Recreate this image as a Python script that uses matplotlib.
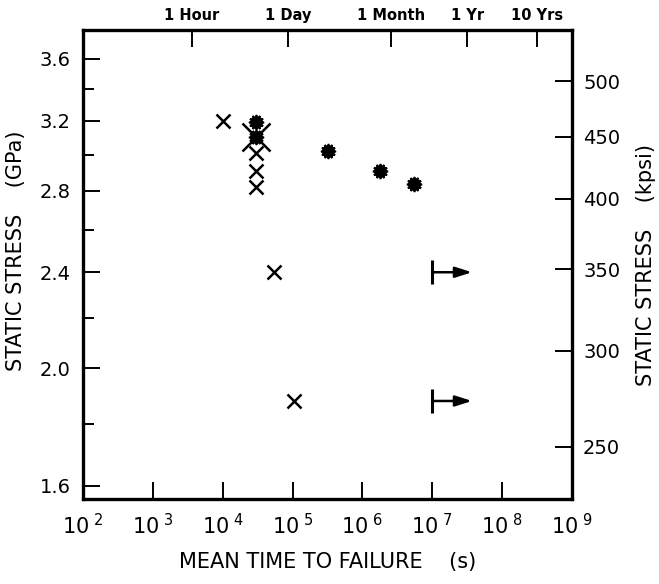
import numpy as np
import matplotlib
matplotlib.use("Agg")
import matplotlib.pyplot as plt
from matplotlib.ticker import NullLocator, FixedLocator, FixedFormatter

plt.rcParams['font.family'] = ['DejaVu Sans']
plt.rcParams['mathtext.fontset'] = 'dejavusans'
plt.rcParams['mathtext.default'] = 'regular'

# data
cross_t = [1.0e4, 3.0e4, 3.0e4, 3.0e4, 5.5e4, 1.05e5]
cross_s = [3.20, 3.01, 2.91, 2.82, 2.40, 1.88]
big_cross_t = [3.0e4]
big_cross_s = [3.10]
dot_t = [3.0e4, 3.0e4, 3.2e5, 1.8e6, 5.5e6]
dot_s = [3.19, 3.10, 3.02, 2.91, 2.835]
runout_t = [1.0e7, 1.0e7]
runout_s = [2.40, 1.88]

gpa_ticks = [1.6, 2.0, 2.4, 2.8, 3.2, 3.6]
gpa_minor = [1.8, 2.2, 2.6, 3.0, 3.4]
kpsi_ticks = [250, 300, 350, 400, 450, 500]
time_ticks = [3600, 86400, 2.592e6, 3.156e7, 3.156e8]
time_labels = ['1 Hour', '1 Day', '1 Month', '1 Yr', '10 Yrs']
decades = list(range(2, 10))
KPSI = 145.04

fig = plt.figure(figsize=(6.59, 5.84), dpi=100)
ax = fig.add_axes([83/659, 1-499/584, (572-83)/659, (499-30)/584])
ax.set_xscale('log')
ax.set_yscale('log')
ax.set_xlim(1e2, 1e9)
ylo, yhi = 1.561, 3.80
ax.set_ylim(ylo, yhi)

ax.plot(cross_t, cross_s, ls='none', marker='x', ms=10.5, mew=1.8, color='black')
ax.plot(big_cross_t, big_cross_s, ls='none', marker='x', ms=20, mew=1.8, color='black')
ax.plot(dot_t, dot_s, ls='none', marker='o', ms=8.5, color='black')
ax.plot(dot_t, dot_s, ls='none', marker=(12, 2, 0), ms=11, mew=1.2, color='black')
for t, s in zip(runout_t, runout_s):
    ax.plot([t], [s], marker='|', ms=17, mew=2.2, color='black')
    ax.annotate('', xy=(t * 3.7, s), xytext=(t, s),
                arrowprops=dict(arrowstyle='-|>,head_length=1.0,head_width=0.32',
                                lw=1.8, color='black', shrinkA=0, shrinkB=0))

for sp in ax.spines.values():
    sp.set_linewidth(2.4)

ax.xaxis.set_major_locator(FixedLocator([10.0**d for d in decades]))
ax.xaxis.set_major_formatter(FixedFormatter(['$10^{\\ %d}$' % d for d in decades]))
ax.xaxis.set_minor_locator(NullLocator())
ax.yaxis.set_major_locator(FixedLocator(gpa_ticks))
ax.yaxis.set_major_formatter(FixedFormatter(['%.1f' % v for v in gpa_ticks]))
ax.yaxis.set_minor_locator(FixedLocator(gpa_minor))
ax.yaxis.set_minor_formatter(FixedFormatter([''] * len(gpa_minor)))
ax.tick_params(axis='both', which='major', direction='in', length=12, width=1.4,
               labelsize=14, pad=9)
ax.tick_params(axis='y', which='minor', direction='in', length=8, width=1.4)
ax.tick_params(axis='x', pad=10, labelsize=15)

ax2 = ax.twinx()
ax2.set_yscale('log')
ax2.set_ylim(ylo * KPSI, yhi * KPSI)
ax2.yaxis.set_major_locator(FixedLocator(kpsi_ticks))
ax2.yaxis.set_major_formatter(FixedFormatter([str(v) for v in kpsi_ticks]))
ax2.yaxis.set_minor_locator(NullLocator())
ax2.tick_params(axis='y', which='major', direction='in', length=12, width=1.4,
                labelsize=14, pad=8)

ax3 = ax.twiny()
ax3.set_xscale('log')
ax3.set_xlim(1e2, 1e9)
ax3.xaxis.set_major_locator(FixedLocator(time_ticks))
ax3.xaxis.set_major_formatter(FixedFormatter(time_labels))
ax3.xaxis.set_minor_locator(NullLocator())
ax3.tick_params(axis='x', which='major', direction='in', length=12, width=1.4,
                labelsize=10.5, pad=5)
for lab in ax3.get_xticklabels():
    lab.set_fontweight('bold')

ax.set_xlabel('MEAN TIME TO FAILURE    (s)', fontsize=15)
ax.set_ylabel('STATIC STRESS    (GPa)', fontsize=15)
ax2.set_ylabel('STATIC STRESS    (kpsi)', fontsize=15)
ax.xaxis.set_label_coords(0.5, -0.113)
ax.yaxis.set_label_coords(-0.117, 0.53)
ax2.yaxis.set_label_coords(1.13, 0.5)

fig.savefig('out.png', dpi=100)
